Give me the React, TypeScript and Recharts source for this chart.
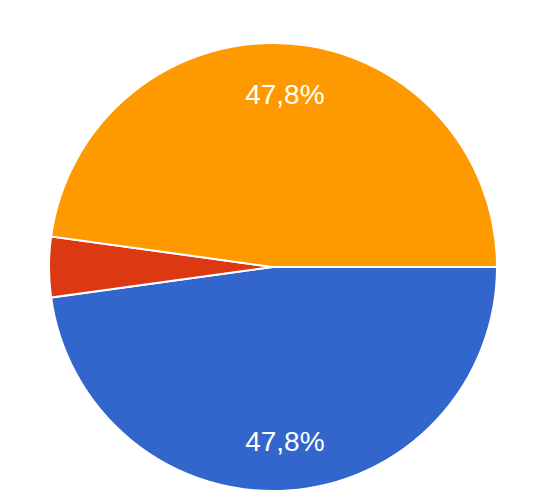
import React from 'react';
import { PieChart, Pie, Cell } from 'recharts';

const categories = ['A', 'B', 'C'];
const responses = [11, 1, 11];
const colors = ['#3366cc', '#dc3912', '#ff9900'];

const data = categories.map((name, i) => ({ name, value: responses[i] }));
const total = responses.reduce((a, b) => a + b, 0);

const RADIAN = Math.PI / 180;

const renderLabel = (props: any) => {
  const { cx, cy, midAngle, outerRadius, value } = props;
  const pct = (value / total) * 100;
  if (pct < 5) return null;
  const r = outerRadius * 0.775;
  const x = cx + r * Math.cos(-midAngle * RADIAN);
  const y = cy + r * Math.sin(-midAngle * RADIAN) + 1;
  return (
    <text
      x={x}
      y={y}
      fill="#ffffff"
      textAnchor="middle"
      dominantBaseline="central"
      style={{ fontFamily: 'Arial, "Liberation Sans", sans-serif', fontSize: 28 }}
    >
      {pct.toFixed(1).replace('.', ',') + '%'}
    </text>
  );
};

export default function App() {
  return (
    <div style={{ position: 'absolute', left: 0, top: 0, width: 545, height: 501, background: '#fff' }}>
      <PieChart width={545} height={501} margin={{ top: 0, right: 0, bottom: 0, left: 0 }}>
        <Pie
          data={data}
          dataKey="value"
          cx={273}
          cy={267}
          outerRadius={224}
          startAngle={0}
          endAngle={-360}
          stroke="#ffffff"
          strokeWidth={2}
          label={renderLabel}
          labelLine={false}
          isAnimationActive={false}
        >
          {data.map((d, i) => (
            <Cell key={d.name} fill={colors[i]} />
          ))}
        </Pie>
      </PieChart>
    </div>
  );
}
